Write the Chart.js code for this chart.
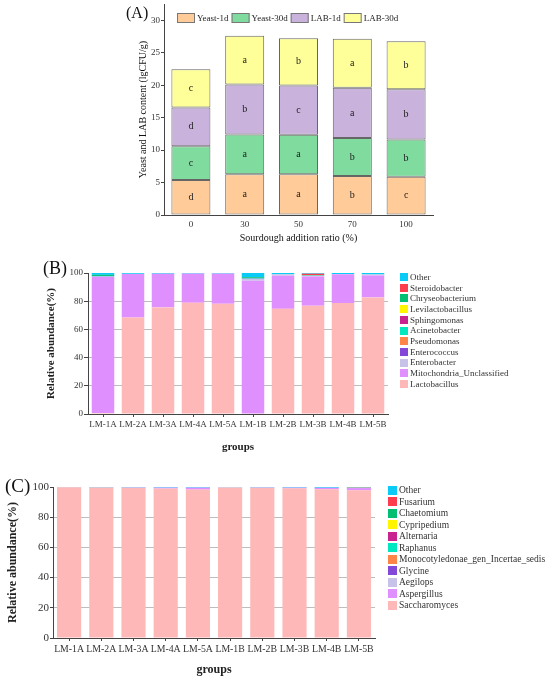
<!DOCTYPE html>
<html><head><meta charset="utf-8">
<script src="https://cdn.jsdelivr.net/npm/chart.js@4"></script>
<style>
html,body{margin:0;padding:0;background:#fff;}
#wrap{position:relative;width:550px;height:679px;overflow:hidden;background:#fff;}
.pane{position:absolute;left:0;width:550px;}
.lab{position:absolute;font-family:'Times New Roman','Liberation Serif',serif;line-height:1;color:#111;white-space:nowrap;}
</style></head><body>
<div id="wrap">
  <div class="pane" style="top:0;height:245px"><canvas id="cA"></canvas></div>
  <div class="pane" style="top:245px;height:210px"><canvas id="cB"></canvas></div>
  <div class="pane" style="top:455px;height:224px"><canvas id="cC"></canvas></div>
  <div class="lab" style="left:126px;top:5px;font-size:16px">(A)</div>
  <div class="lab" style="left:43px;top:259px;font-size:18px">(B)</div>
  <div class="lab" style="left:5px;top:476px;font-size:19px">(C)</div>
</div>
<script>
// ---------- Panel A data ----------
const ratios = ['0', '30', '50', '70', '100'];
const yeast1d  = [5.38, 6.26, 6.26, 6.00, 5.90];
const yeast30d = [5.22, 6.15, 6.10, 5.85, 5.74];
const lab1d    = [5.96, 7.69, 7.59, 7.74, 7.74];
const lab30d   = [5.90, 7.50, 7.28, 7.54, 7.39];
const yeast1dSig  = ['d', 'a', 'a', 'b', 'c'];
const yeast30dSig = ['c', 'a', 'a', 'b', 'b'];
const lab1dSig    = ['d', 'b', 'c', 'a', 'b'];
const lab30dSig   = ['c', 'a', 'b', 'a', 'b'];

// ---------- Panel B data (bacteria, %) ----------
const groups = ['LM-1A', 'LM-2A', 'LM-3A', 'LM-4A', 'LM-5A', 'LM-1B', 'LM-2B', 'LM-3B', 'LM-4B', 'LM-5B'];
const bLactobacillus     = [0.7, 68.5, 75.6, 78.9, 78.2, 0.4, 74.6, 76.8, 78.7, 82.7];
const bMitochondria      = [96.8, 30.8, 23.9, 20.7, 21.4, 94.1, 23.5, 20.8, 20.4, 15.6];
const bEnterobacter      = [0.0, 0.1, 0.0, 0.0, 0.0, 1.3, 1.0, 0.5, 0.1, 0.7];
const bEnterococcus      = [0.0, 0.0, 0.0, 0.0, 0.0, 0.2, 0.0, 0.0, 0.0, 0.0];
const bPseudomonas       = [0.0, 0.0, 0.0, 0.0, 0.0, 0.0, 0.0, 0.0, 0.0, 0.0];
const bAcinetobacter     = [0.4, 0.0, 0.0, 0.0, 0.0, 0.4, 0.0, 0.0, 0.0, 0.0];
const bSphingomonas      = [0.0, 0.0, 0.0, 0.0, 0.0, 0.0, 0.0, 0.0, 0.0, 0.0];
const bLevilactobacillus = [0.0, 0.0, 0.0, 0.0, 0.0, 0.0, 0.0, 0.0, 0.0, 0.0];
const bChryseobacterium  = [0.8, 0.0, 0.0, 0.0, 0.0, 0.6, 0.0, 0.4, 0.0, 0.0];
const bSteroidobacter    = [0.0, 0.0, 0.0, 0.0, 0.0, 0.0, 0.0, 1.0, 0.0, 0.0];
const bOther             = [1.3, 0.6, 0.5, 0.4, 0.4, 3.0, 0.9, 0.5, 0.8, 1.0];

// ---------- Panel C data (fungi, %) ----------
const cSaccharomyces = [99.8, 99.6, 99.5, 99.0, 98.3, 99.7, 99.5, 99.1, 98.5, 97.8];
const cAspergillus   = [0.05, 0.1, 0.2, 0.6, 1.3, 0.1, 0.2, 0.5, 1.0, 1.5];
const cAegilops      = [0.0, 0.0, 0.0, 0.0, 0.0, 0.0, 0.0, 0.0, 0.0, 0.0];
const cGlycine       = [0.0, 0.0, 0.0, 0.0, 0.0, 0.0, 0.0, 0.0, 0.0, 0.0];
const cMonocot       = [0.0, 0.0, 0.0, 0.0, 0.0, 0.0, 0.0, 0.0, 0.0, 0.3];
const cRaphanus      = [0.0, 0.0, 0.0, 0.0, 0.0, 0.0, 0.0, 0.0, 0.0, 0.0];
const cAlternaria    = [0.0, 0.0, 0.0, 0.0, 0.0, 0.0, 0.0, 0.0, 0.0, 0.0];
const cCypripedium   = [0.0, 0.0, 0.0, 0.0, 0.0, 0.0, 0.0, 0.0, 0.0, 0.0];
const cChaetomium    = [0.0, 0.0, 0.0, 0.0, 0.0, 0.0, 0.0, 0.0, 0.0, 0.0];
const cFusarium      = [0.0, 0.0, 0.0, 0.0, 0.0, 0.0, 0.0, 0.0, 0.0, 0.0];
const cOther         = [0.15, 0.3, 0.3, 0.4, 0.4, 0.2, 0.3, 0.4, 0.5, 0.4];

const yTicksA = [0, 5, 10, 15, 20, 25, 30];
const yTicksAbund = [0, 20, 40, 60, 80, 100];

// ---------- styling ----------
const SERIF = "'Times New Roman', 'Liberation Serif', serif";
const AXIS = '#444';
const TXT = '#333';
const PAL = {
  other: '#0ACBF5', red: '#FF3D4D', green: '#00BF72', yellow: '#FFF500', magenta: '#C8238E',
  teal: '#00E8C0', orange: '#FF8447', violet: '#8448D8', lav: '#C7C3E8', pinkPurple: '#E08FFF', pink: '#FFB8B8'
};

function zeroPad(s) { s.paddingTop = 0; s.paddingBottom = 0; s.paddingLeft = 0; s.paddingRight = 0; }

function boxLegend(o) {
  return {
    id: 'boxLegend',
    afterDraw(chart) {
      const ctx = chart.ctx, ca = chart.chartArea;
      let items = chart.data.datasets.map(d => ({ text: d.label, fill: d.backgroundColor }));
      if (o.reverse) items.reverse();
      ctx.save();
      ctx.font = o.font;
      ctx.textBaseline = 'middle';
      ctx.textAlign = 'left';
      let x = Math.round((o.anchor === 'right' ? ca.right : ca.left) + o.dx), y = ca.top + o.dy;
      for (const it of items) {
        const by = Math.round(y - o.bh / 2);
        ctx.fillStyle = it.fill;
        ctx.fillRect(x, by, o.bw, o.bh);
        if (o.stroke) {
          ctx.strokeStyle = o.stroke; ctx.lineWidth = 1;
          ctx.strokeRect(x + 0.5, by + 0.5, o.bw - 1, o.bh - 1);
        }
        ctx.fillStyle = o.color;
        ctx.fillText(it.text, x + o.bw + o.gap, y + 0.5);
        if (o.horizontal) x += o.bw + o.gap + ctx.measureText(it.text).width + o.space;
        else y += o.space;
      }
      ctx.restore();
    }
  };
}

const sigLetters = [yeast1dSig, yeast30dSig, lab1dSig, lab30dSig];
const letterPlugin = {
  id: 'sigLetters',
  afterDatasetsDraw(chart) {
    const ctx = chart.ctx;
    ctx.save();
    ctx.font = '10px ' + SERIF;
    ctx.fillStyle = '#222';
    ctx.textAlign = 'center';
    ctx.textBaseline = 'middle';
    chart.data.datasets.forEach((ds, i) => {
      chart.getDatasetMeta(i).data.forEach((el, j) => {
        ctx.fillText(sigLetters[i][j], el.x, (el.y + el.base) / 2);
      });
    });
    ctx.restore();
  }
};

Chart.defaults.font.family = SERIF;
Chart.defaults.color = TXT;

// ---------- Chart A ----------
new Chart(document.getElementById('cA'), {
  type: 'bar',
  data: {
    labels: ratios,
    datasets: [
      { label: 'Yeast-1d', data: yeast1d, backgroundColor: '#FFCC99' },
      { label: 'Yeast-30d', data: yeast30d, backgroundColor: '#7FDB9E' },
      { label: 'LAB-1d', data: lab1d, backgroundColor: '#C9B2DB' },
      { label: 'LAB-30d', data: lab30d, backgroundColor: '#FFFF99' }
    ]
  },
  options: {
    responsive: true, maintainAspectRatio: false, animation: false,
    layout: { padding: { left: 133, right: 117, top: 4, bottom: 0 } },
    datasets: { bar: { categoryPercentage: 1, barPercentage: 0.725, borderWidth: 1, borderColor: '#666666', borderSkipped: false } },
    plugins: { legend: { display: false }, tooltip: { enabled: false } },
    scales: {
      x: {
        stacked: true,
        grid: { display: false, drawTicks: false, tickLength: 0 },
        border: { display: true, color: AXIS, width: 1 },
        ticks: { font: { size: 9 }, color: TXT, padding: 4 },
        title: { display: true, text: 'Sourdough addition ratio (%)', font: { size: 10 }, color: '#111', padding: { top: 0, bottom: 1 } },
        afterFit: s => { s.height = 30; zeroPad(s); }
      },
      y: {
        stacked: true, min: 0, max: 32.5,
        grid: { display: true, drawOnChartArea: false, tickLength: 3, tickColor: AXIS },
        border: { display: true, color: AXIS, width: 1 },
        ticks: { font: { size: 9 }, color: TXT, padding: 1 },
        afterBuildTicks: s => { s.ticks = yTicksA.map(v => ({ value: v })); },
        title: { display: true, text: 'Yeast and LAB content (lgCFU/g)', font: { size: 10 }, color: '#111', padding: { top: 4, bottom: 0 } },
        afterFit: s => { s.width = 31; zeroPad(s); }
      }
    }
  },
  plugins: [letterPlugin, boxLegend({ horizontal: true, anchor: 'left', dx: 13, dy: 14, bw: 18, bh: 10, gap: 2, space: 3, font: '9px ' + SERIF, color: '#222', stroke: '#777' })]
});

// ---------- shared config for B / C ----------
function abundanceChart(id, datasets, o) {
  return new Chart(document.getElementById(id), {
    type: 'bar',
    data: { labels: groups, datasets: datasets.map(d => ({ label: d[0], data: d[1], backgroundColor: d[2], borderWidth: 0 })) },
    options: {
      responsive: true, maintainAspectRatio: false, animation: false,
      layout: { padding: o.padding },
      datasets: { bar: { categoryPercentage: 1, barPercentage: 0.75 } },
      plugins: { legend: { display: false }, tooltip: { enabled: false } },
      scales: {
        x: {
          stacked: true,
          grid: { display: true, drawOnChartArea: false, offset: false, tickLength: 3, tickColor: AXIS, tickBorderDash: [] },
          border: { display: true, color: AXIS, width: 1 },
          ticks: { font: { size: o.xFont }, color: TXT, padding: o.xPad, maxRotation: 0, autoSkip: false },
          title: { display: true, text: 'groups', font: { size: o.titleFont, weight: 'bold' }, color: '#222', padding: { top: 0, bottom: o.titleBottom } },
          afterFit: s => { s.height = o.xHeight; zeroPad(s); }
        },
        y: {
          stacked: true, min: 0, max: 100,
          grid: {
            display: true, drawOnChartArea: true, tickLength: o.yTick, tickColor: AXIS, tickBorderDash: [],
            color: c => (c.tick && (c.tick.value === 0 || c.tick.value === 100)) ? 'rgba(0,0,0,0)' : '#bdbdbd',
            borderDash: [3, 5]
          },
          border: { display: true, color: AXIS, width: 1 },
          ticks: { font: { size: o.yFont }, color: TXT, padding: 1 },
          afterBuildTicks: s => { s.ticks = yTicksAbund.map(v => ({ value: v })); },
          title: { display: true, text: 'Relative abundance(%)', font: { size: o.titleFont, weight: 'bold' }, color: '#222', padding: { top: 0, bottom: 0 } },
          afterFit: s => { s.width = o.yWidth; zeroPad(s); }
        }
      }
    },
    plugins: [boxLegend(o.legend)]
  });
}

abundanceChart('cB', [
  ['Lactobacillus', bLactobacillus, PAL.pink],
  ['Mitochondria_Unclassified', bMitochondria, PAL.pinkPurple],
  ['Enterobacter', bEnterobacter, PAL.lav],
  ['Enterococcus', bEnterococcus, PAL.violet],
  ['Pseudomonas', bPseudomonas, PAL.orange],
  ['Acinetobacter', bAcinetobacter, PAL.teal],
  ['Sphingomonas', bSphingomonas, PAL.magenta],
  ['Levilactobacillus', bLevilactobacillus, PAL.yellow],
  ['Chryseobacterium', bChryseobacterium, PAL.green],
  ['Steroidobacter', bSteroidobacter, PAL.red],
  ['Other', bOther, PAL.other]
], {
  padding: { left: 45, right: 162, top: 28, bottom: 0 },
  xFont: 9, yFont: 9, titleFont: 11, titleBottom: 1.4, xPad: 2, xHeight: 41, yWidth: 43, yTick: 4,
  legend: { horizontal: false, reverse: true, anchor: 'right', dx: 12, dy: 4, bw: 8, bh: 8, gap: 2, space: 10.7, font: '9px ' + SERIF, color: '#333' }
});

abundanceChart('cC', [
  ['Saccharomyces', cSaccharomyces, PAL.pink],
  ['Aspergillus', cAspergillus, PAL.pinkPurple],
  ['Aegilops', cAegilops, PAL.lav],
  ['Glycine', cGlycine, PAL.violet],
  ['Monocotyledonae_gen_Incertae_sedis', cMonocot, PAL.orange],
  ['Raphanus', cRaphanus, PAL.teal],
  ['Alternaria', cAlternaria, PAL.magenta],
  ['Cypripedium', cCypripedium, PAL.yellow],
  ['Chaetomium', cChaetomium, PAL.green],
  ['Fusarium', cFusarium, PAL.red],
  ['Other', cOther, PAL.other]
], {
  padding: { left: 6, right: 175, top: 32, bottom: 0 },
  xFont: 9.8, yFont: 11, titleFont: 12, titleBottom: 1.8, xPad: 3, xHeight: 41, yWidth: 47, yTick: 3,
  legend: { horizontal: false, reverse: true, anchor: 'right', dx: 13, dy: 3, bw: 9, bh: 9, gap: 2, space: 11.5, font: '9.5px ' + SERIF, color: '#333' }
});
</script>
</body></html>
